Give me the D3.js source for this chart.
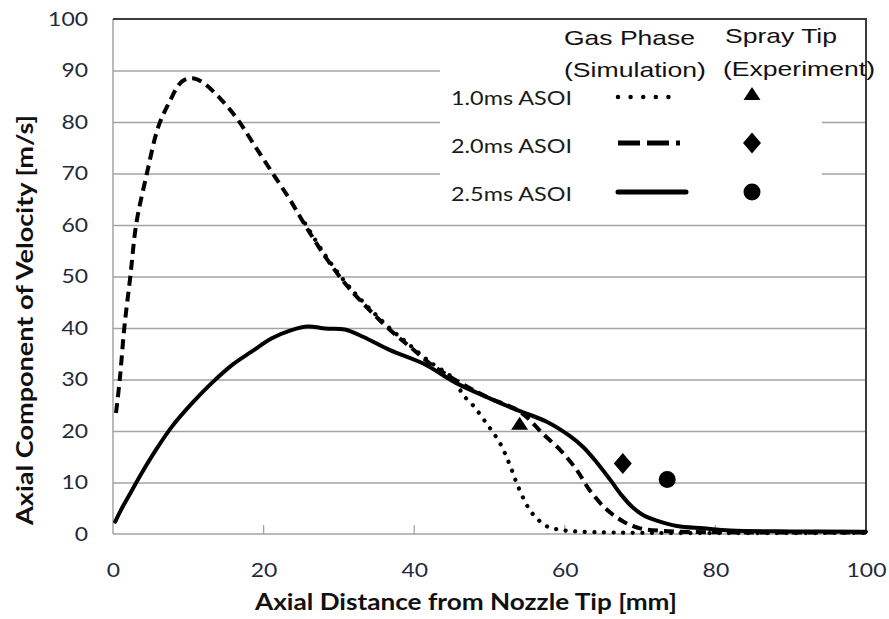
<!DOCTYPE html>
<html>
<head>
<meta charset="utf-8">
<script src="https://cdn.jsdelivr.net/npm/d3@7"></script>
<style>
  body { margin: 0; background: #fff; }
  svg { display: block; }
</style>
</head>
<body>
<script>
// 2.0ms ASOI, gas phase (dashed)
const dashX = [0.4, 0.9, 1.5, 2.3, 3.1, 4.5, 6.0, 7.4, 9.1, 10.5, 11.8, 14.4, 16.6, 18.6, 21, 23.5, 25.5, 28.2, 30.8, 32.8, 36.8, 39.4, 42.1, 44.8, 47.4, 50.1, 53.3, 55, 57, 59.4, 61.6, 63.3, 65.6, 67.8, 70, 73, 77, 85, 100];
const dashV = [23.5, 30, 40, 50, 60.3, 70, 79, 83.6, 87.8, 88.5, 87.8, 84.3, 80.4, 75.9, 70.5, 64.9, 60, 53.8, 48.7, 45.4, 39.6, 36.4, 33.1, 30.5, 28.3, 26.3, 24.4, 22.6, 19.6, 16.3, 12.4, 8.5, 4.7, 2.4, 1.1, 0.6, 0.4, 0.3, 0.3];

// 1.0ms ASOI (dotted), visible from where it leaves the 2.0ms curve gaps
const dotX = [25.5, 28.2, 30.8, 32.8, 36.8, 39.4, 42.1, 44.8, 45.6, 46.5, 47.8, 49.6, 51.4, 52.7, 53.8, 55.2, 56.3, 57.6, 59.4, 62, 66, 72, 100];
const dotV = [60.3, 54.1, 49, 45.7, 39.9, 36.7, 33.4, 30.7, 29.3, 27, 25, 21.5, 17.6, 13.4, 9.2, 5, 3, 1.5, 0.8, 0.45, 0.3, 0.2, 0.2];

// 2.5ms ASOI (solid)
const solidX = [0.3, 1, 2.3, 3.8, 6.0, 7.8, 10.5, 13.1, 15.8, 18.4, 21.1, 23.7, 25.9, 28.2, 30.8, 33.2, 36.8, 41.2, 45.6, 50.1, 53.6, 57.6, 60.7, 62.5, 64.3, 66, 67.5, 69, 70.5, 72.2, 74.9, 78.4, 82, 90, 100];
const solidV = [2.4, 4.5, 7.9, 11.8, 17, 20.8, 25.4, 29.3, 32.8, 35.4, 38, 39.6, 40.3, 39.9, 39.7, 38.3, 35.7, 33.1, 29.3, 26.3, 24.1, 21.8, 19, 16.8, 13.8, 10.6, 7.6, 5.2, 3.6, 2.6, 1.55, 1.1, 0.7, 0.5, 0.45];

// spray tip, experiment
const tipX = [54.0, 67.7, 73.6];
const tipV = [21.2, 13.7, 10.6];

const caseLabels = ["1.0ms ASOI", "2.0ms ASOI", "2.5ms ASOI"];
const xTicks = [0, 20, 40, 60, 80, 100];
const yTicks = [0, 10, 20, 30, 40, 50, 60, 70, 80, 90, 100];

const width = 889, height = 619;
const plotL = 113, plotR = 866, plotT = 19, plotB = 534;

const x = d3.scaleLinear().domain([0, 100]).range([plotL, plotR]);
const y = d3.scaleLinear().domain([0, 100]).range([plotB, plotT]);

const svg = d3.select("body").append("svg")
    .attr("width", width)
    .attr("height", height);

// custom marker shapes (size is ignored)
const triangle = {
    draw(ctx) {
        ctx.moveTo(0, -8); ctx.lineTo(8.5, 5); ctx.lineTo(-8.5, 5); ctx.closePath();
    }
};
const diamond = {
    draw(ctx) {
        ctx.moveTo(0, -10.5); ctx.lineTo(9, 0); ctx.lineTo(0, 10.5); ctx.lineTo(-9, 0); ctx.closePath();
    }
};
const circle = {
    draw(ctx) {
        ctx.moveTo(8.5, 0); ctx.arc(0, 0, 8.5, 0, 2 * Math.PI);
    }
};
const shapes = [triangle, diamond, circle];

// gridlines
svg.append("g")
    .attr("transform", "translate(" + plotL + ",0)")
    .call(d3.axisLeft(y).tickValues(yTicks.slice(1, -1)).tickSize(-(plotR - plotL)).tickFormat(""))
    .call(g => g.select(".domain").remove())
    .call(g => g.selectAll("line").attr("stroke", "#a3a3a3").attr("stroke-width", 1.3));

// legend background hides the grid
svg.append("rect").attr("x", 440).attr("y", plotT + 1).attr("width", 382).attr("height", 192).attr("fill", "#fff");
svg.append("rect").attr("x", 560).attr("y", plotT + 1).attr("width", plotR - 560).attr("height", 85).attr("fill", "#fff");

// x ticks (inside, upward)
svg.append("g")
    .selectAll("line")
    .data(xTicks.slice(1, -1))
    .join("line")
    .attr("x1", d => x(d)).attr("x2", d => x(d))
    .attr("y1", plotB).attr("y2", plotB - 9)
    .attr("stroke", "#a3a3a3").attr("stroke-width", 1.3);

// frame
svg.append("line").attr("x1", plotL).attr("x2", plotL).attr("y1", plotT).attr("y2", plotB)
    .attr("stroke", "#a3a3a3").attr("stroke-width", 1.5);
svg.append("line").attr("x1", plotL).attr("x2", plotR).attr("y1", plotB).attr("y2", plotB)
    .attr("stroke", "#a3a3a3").attr("stroke-width", 1.5);
svg.append("line").attr("x1", plotL).attr("x2", plotR + 1).attr("y1", plotT).attr("y2", plotT)
    .attr("stroke", "#3c3c3c").attr("stroke-width", 2);
svg.append("line").attr("x1", plotR).attr("x2", plotR).attr("y1", plotT).attr("y2", plotB)
    .attr("stroke", "#3c3c3c").attr("stroke-width", 2);

// tick labels
const numFont = "Lato, 'Open Sans', sans-serif";
svg.append("g")
    .attr("transform", "translate(" + plotL + ",0)")
    .call(d3.axisLeft(y).tickValues(yTicks).tickSize(0).tickPadding(25))
    .call(g => g.select(".domain").remove())
    .call(g => g.selectAll("text")
        .attr("font-family", numFont).attr("font-size", 20).attr("fill", "#1f2a3a")
        .attr("textLength", d => String(d).length * 13.3).attr("lengthAdjust", "spacingAndGlyphs"));

svg.append("g")
    .attr("transform", "translate(0," + plotB + ")")
    .call(d3.axisBottom(x).tickValues(xTicks).tickSize(0))
    .call(g => g.select(".domain").remove())
    .call(g => g.selectAll("text")
        .attr("y", 43).attr("dy", 0)
        .attr("font-family", numFont).attr("font-size", 20).attr("fill", "#1f2a3a")
        .attr("textLength", d => String(d).length * 13.3).attr("lengthAdjust", "spacingAndGlyphs"));

// axis titles
svg.append("text")
    .attr("x", 466).attr("y", 610)
    .attr("text-anchor", "middle")
    .attr("font-family", numFont).attr("font-weight", "bold").attr("font-size", 22)
    .attr("fill", "#111")
    .attr("textLength", 422).attr("lengthAdjust", "spacingAndGlyphs")
    .text("Axial Distance from Nozzle Tip [mm]");

svg.append("text")
    .attr("transform", "translate(33,320) rotate(-90)")
    .attr("text-anchor", "middle")
    .attr("font-family", numFont).attr("font-weight", "bold").attr("font-size", 22)
    .attr("fill", "#111")
    .attr("textLength", 410).attr("lengthAdjust", "spacingAndGlyphs")
    .text("Axial Component of Velocity [m/s]");

// curves
const line = d3.line()
    .x(d => x(d[0]))
    .y(d => y(d[1]))
    .curve(d3.curveCatmullRom.alpha(0.5));

const series = [
    { xs: dotX, vs: dotV, dash: "0.1,9.5", cap: "round", w: 4.2 },
    { xs: dashX, vs: dashV, dash: "10,6", cap: "butt", w: 4 },
    { xs: solidX, vs: solidV, dash: null, cap: "round", w: 4 }
];

series.forEach(function(s) {
    svg.append("path")
        .attr("d", line(d3.zip(s.xs, s.vs)))
        .attr("fill", "none")
        .attr("stroke", "#000")
        .attr("stroke-width", s.w)
        .attr("stroke-linecap", s.cap)
        .attr("stroke-linejoin", "round")
        .attr("stroke-dasharray", s.dash);
});

// experiment markers
svg.append("g")
    .selectAll("path")
    .data(d3.zip(tipX, tipV))
    .join("path")
    .attr("transform", d => "translate(" + x(d[0]) + "," + y(d[1]) + ")")
    .attr("d", (d, i) => d3.symbol().type(shapes[i])())
    .attr("fill", "#000");

// legend
const headFont = "'Liberation Sans', Arial, sans-serif";
const heads = [
    { t: "Gas Phase", x: 564, y: 45, w: 131 },
    { t: "(Simulation)", x: 564, y: 77, w: 142 },
    { t: "Spray Tip", x: 725, y: 43, w: 112 },
    { t: "(Experiment)", x: 723, y: 76, w: 152 }
];
svg.append("g")
    .selectAll("text")
    .data(heads)
    .join("text")
    .attr("x", d => d.x).attr("y", d => d.y)
    .attr("font-family", headFont).attr("font-size", 21).attr("fill", "#111")
    .attr("textLength", d => d.w).attr("lengthAdjust", "spacingAndGlyphs")
    .text(d => d.t);

const rowY = [97, 143, 192];
const rowBase = [105, 153, 201];
const legDash = ["0.01,12.59", "22,7", null];

caseLabels.forEach(function(lab, i) {
    svg.append("text")
        .attr("x", 451).attr("y", rowBase[i])
        .attr("font-family", numFont).attr("font-size", 20).attr("fill", "#1a1a1a")
        .attr("textLength", 121).attr("lengthAdjust", "spacingAndGlyphs")
        .text(lab);

    svg.append("line")
        .attr("x1", 618).attr("x2", i == 2 ? 686 : 680)
        .attr("y1", rowY[i]).attr("y2", rowY[i])
        .attr("stroke", "#000")
        .attr("stroke-width", i == 0 ? 4.5 : 5)
        .attr("stroke-linecap", i == 1 ? "butt" : "round")
        .attr("stroke-dasharray", legDash[i]);

    svg.append("path")
        .attr("transform", "translate(752," + (rowY[i] + (i == 0 ? -2 : 0)) + ")")
        .attr("d", d3.symbol().type(shapes[i])())
        .attr("fill", "#000");
});
</script>
</body>
</html>
